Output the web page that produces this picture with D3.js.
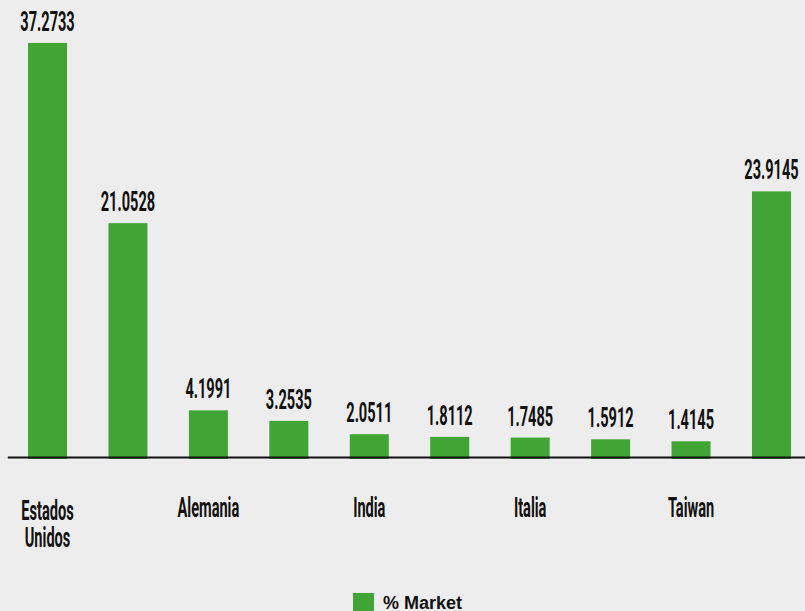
<!DOCTYPE html>
<html>
<head>
<meta charset="utf-8">
<script src="https://cdn.jsdelivr.net/npm/d3@7"></script>
<style>
  html, body { margin: 0; padding: 0; background: #ededed; }
  svg { display: block; }
</style>
</head>
<body>
<svg id="chart" width="805" height="611"></svg>
<script>
// Market share by country (%)
const categories = ["Estados Unidos", "China", "Alemania", "Japón", "India",
                    "Reino Unido", "Italia", "Francia", "Taiwan", "Resto"];
const marketShare = [37.2733, 21.0528, 4.1991, 3.2535, 2.0511,
                     1.8112, 1.7485, 1.5912, 1.4145, 23.9145];
const seriesName = "% Market";

const W = 805, H = 611;
const green = "#41a536";
const ink = "#111111";
const condensed = 0.53;    // horizontal squeeze for the narrow display face
const narrowFont = "Roboto, 'Liberation Sans', sans-serif";
const labelSize = 27.5;

const svg = d3.select("#chart");

svg.append("rect").attr("width", W).attr("height", H).attr("fill", "#ededed");

const x = d3.scaleBand()
  .domain(categories)
  .range([7.3, 811.7])
  .paddingInner(0.515)
  .paddingOuter(0.2575);

const y = d3.scaleLinear()
  .domain([0, d3.max(marketShare)])
  .range([457, 43]);

const rows = categories.map((c, i) => ({ cat: c, value: marketShare[i] }));

// bars
svg.append("g")
  .selectAll("rect")
  .data(rows)
  .join("rect")
  .attr("x", d => x(d.cat))
  .attr("y", d => y(d.value))
  .attr("width", x.bandwidth())
  .attr("height", d => y(0) - y(d.value) + 2)
  .attr("fill", green);

// value labels above the bars
svg.append("g")
  .selectAll("text")
  .data(rows)
  .join("text")
  .attr("transform", d =>
    `translate(${x(d.cat) + x.bandwidth() / 2},${y(d.value) - 12}) scale(${condensed},1)`)
  .attr("text-anchor", "middle")
  .attr("font-family", narrowFont)
  .attr("font-weight", 700)
  .attr("font-size", labelSize)
  .attr("fill", ink)
  .text(d => d.value.toFixed(4));

// category axis, every other label shown
const axis = d3.axisBottom(x)
  .tickSize(0)
  .tickSizeOuter(0)
  .tickValues(categories.filter((c, i) => i % 2 === 0));

const gx = svg.append("g")
  .attr("transform", `translate(0,${y(0)})`)
  .call(axis);

gx.select(".domain")
  .attr("stroke", ink)
  .attr("stroke-width", 2.2);

gx.selectAll(".tick text").each(function (d) {
  const t = d3.select(this);
  const words = d.split(" ");
  t.text(null)
    .attr("y", null)
    .attr("dy", null)
    .attr("transform", `scale(${condensed},1)`)
    .attr("font-family", narrowFont)
    .attr("font-weight", 700)
    .attr("font-size", labelSize)
    .attr("fill", ink)
    .attr("text-anchor", "middle");
  if (words.length === 1) {
    t.append("tspan").attr("x", 0).attr("y", 60).text(d);
  } else {
    words.forEach((w, k) => {
      t.append("tspan").attr("x", 0).attr("y", 63 + k * 27.5).text(w);
    });
  }
});

// legend
const legend = svg.append("g").attr("transform", "translate(353,593)");
legend.append("rect")
  .attr("width", 21).attr("height", 21)
  .attr("fill", green);
legend.append("text")
  .attr("x", 30).attr("y", 15.5)
  .attr("font-family", "'Liberation Sans', Arial, sans-serif")
  .attr("font-weight", 700)
  .attr("font-size", 18)
  .attr("fill", ink)
  .text(seriesName);
</script>
</body>
</html>
